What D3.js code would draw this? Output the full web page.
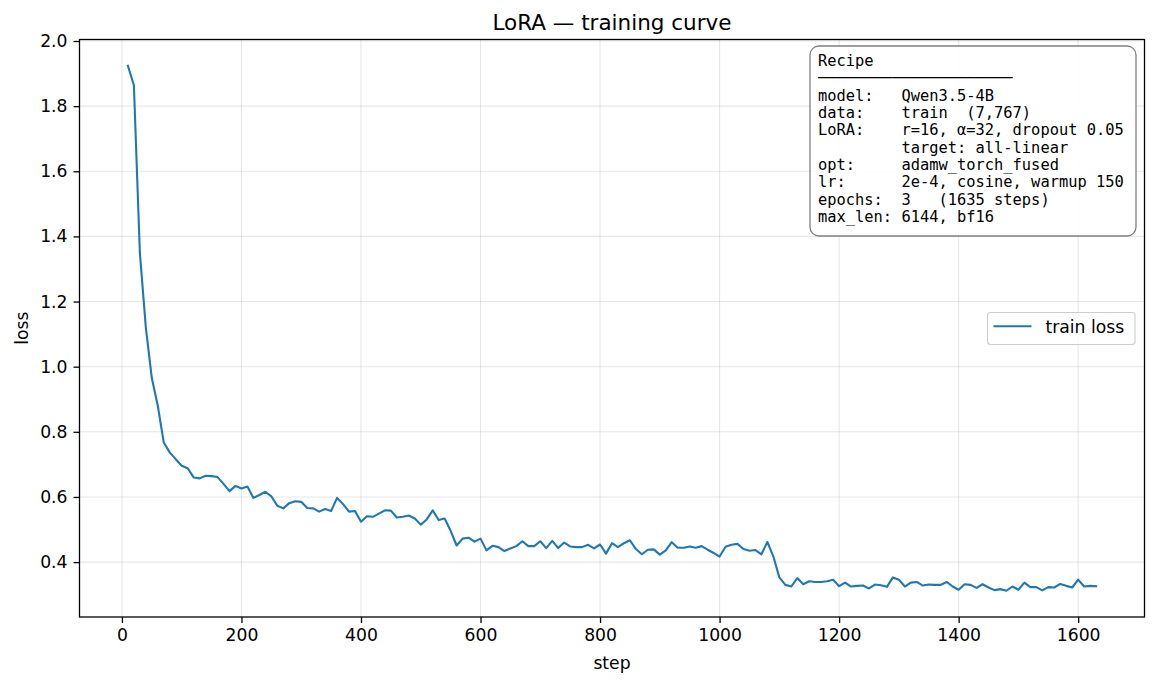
<!DOCTYPE html>
<html>
<head>
<meta charset="utf-8">
<script src="https://cdn.jsdelivr.net/npm/d3@7"></script>
<style>
  html, body { margin: 0; padding: 0; background: #fff; }
  svg { display: block; }
  text { font-family: "DejaVu Sans", sans-serif; fill: #000; }
  .mono { font-family: "DejaVu Sans Mono", monospace; }
</style>
</head>
<body>
<svg id="chart" width="1156" height="686"></svg>
<script>
// ---- data ----
const steps = [10,20,30,40,50,60,70,80,90,100,110,120,130,140,150,160,170,180,190,200,
  210,220,230,240,250,260,270,280,290,300,310,320,330,340,350,360,370,380,390,400,
  410,420,430,440,450,460,470,480,490,500,510,520,530,540,550,560,570,580,590,600,
  610,620,630,640,650,660,670,680,690,700,710,720,730,740,750,760,770,780,790,800,
  810,820,830,840,850,860,870,880,890,900,910,920,930,940,950,960,970,980,990,1000,
  1010,1020,1030,1040,1050,1060,1070,1080,1090,1100,1110,1120,1130,1140,1150,1160,1170,1180,1190,1200,
  1210,1220,1230,1240,1250,1260,1270,1280,1290,1300,1310,1320,1330,1340,1350,1360,1370,1380,1390,1400,
  1410,1420,1430,1440,1450,1460,1470,1480,1490,1500,1510,1520,1530,1540,1550,1560,1570,1580,1590,1600,
  1610,1620,1630];
const trainLoss = [1.924,1.864,1.35,1.12,0.965,0.88,0.767,0.737,0.716,0.696,
  0.688,0.660,0.657,0.665,0.664,0.661,0.640,0.618,0.634,0.626,
  0.632,0.597,0.606,0.616,0.602,0.573,0.565,0.581,0.587,0.585,
  0.566,0.565,0.555,0.563,0.557,0.597,0.578,0.555,0.557,0.524,
  0.541,0.539,0.549,0.559,0.558,0.537,0.539,0.543,0.534,0.515,
  0.531,0.559,0.529,0.534,0.496,0.451,0.472,0.475,0.463,0.472,
  0.436,0.450,0.446,0.434,0.442,0.449,0.464,0.449,0.449,0.464,
  0.443,0.465,0.443,0.460,0.448,0.446,0.446,0.453,0.442,0.454,
  0.426,0.458,0.446,0.458,0.467,0.440,0.424,0.438,0.439,0.423,
  0.436,0.461,0.444,0.444,0.448,0.444,0.449,0.438,0.428,0.417,
  0.447,0.453,0.456,0.440,0.435,0.437,0.424,0.462,0.417,0.353,
  0.330,0.325,0.351,0.332,0.341,0.339,0.339,0.341,0.346,0.326,
  0.337,0.325,0.327,0.328,0.319,0.331,0.329,0.324,0.353,0.346,
  0.325,0.337,0.339,0.328,0.331,0.330,0.330,0.339,0.325,0.315,
  0.332,0.330,0.321,0.332,0.322,0.314,0.317,0.312,0.325,0.315,
  0.337,0.323,0.323,0.313,0.323,0.322,0.333,0.327,0.322,0.346,
  0.325,0.327,0.326];
const xTicks = [0,200,400,600,800,1000,1200,1400,1600];
const yTicks = [0.4,0.6,0.8,1.0,1.2,1.4,1.6,1.8,2.0];
const titleText = "LoRA \u2014 training curve";
const xLabel = "step";
const yLabel = "loss";
const seriesName = "train loss";
const recipeLines = [
  "Recipe",
  "\u2500".repeat(21),
  "model:   Qwen3.5-4B",
  "data:    train  (7,767)",
  "LoRA:    r=16, \u03b1=32, dropout 0.05",
  "         target: all-linear",
  "opt:     adamw_torch_fused",
  "lr:      2e-4, cosine, warmup 150",
  "epochs:  3   (1635 steps)",
  "max_len: 6144, bf16"
];

// ---- layout ----
const L = 79.5, R = 1144.5, T = 39.5, B = 617;
const svg = d3.select("#chart");
const lineColor = "#1f77b4";

const xMin = d3.min(steps), xMax = d3.max(steps);
const xPad = (xMax - xMin) * 0.05;
const yMin = d3.min(trainLoss), yMax = d3.max(trainLoss);
const yPad = (yMax - yMin) * 0.05;

const x = d3.scaleLinear().domain([xMin - xPad, xMax + xPad]).range([L, R]);
const y = d3.scaleLinear().domain([yMin - yPad, yMax + yPad]).range([B, T]);

// grid
const grid = svg.append("g");
grid.selectAll("line.gx").data(xTicks).enter().append("line")
  .attr("x1", d => x(d)).attr("x2", d => x(d)).attr("y1", T).attr("y2", B)
  .attr("stroke", "#b0b0b0").attr("stroke-opacity", 0.3).attr("stroke-width", 1.1);
grid.selectAll("line.gy").data(yTicks).enter().append("line")
  .attr("y1", d => y(d)).attr("y2", d => y(d)).attr("x1", L).attr("x2", R)
  .attr("stroke", "#b0b0b0").attr("stroke-opacity", 0.3).attr("stroke-width", 1.1);

// line
const line = d3.line().x((d, i) => x(steps[i])).y(d => y(d));
svg.append("path").datum(trainLoss)
  .attr("d", line).attr("fill", "none")
  .attr("stroke", lineColor).attr("stroke-width", 2.1)
  .attr("stroke-linejoin", "round").attr("stroke-linecap", "square");

// axes
const fs = 17.2;
const xAxis = d3.axisBottom(x).tickValues(xTicks).tickFormat(d3.format("d")).tickSize(6).tickPadding(6);
const yAxis = d3.axisLeft(y).tickValues(yTicks).tickFormat(d3.format(".1f")).tickSize(6).tickPadding(6);
const gx = svg.append("g").attr("transform", `translate(0,${B})`).call(xAxis);
const gy = svg.append("g").attr("transform", `translate(${L},0)`).call(yAxis);
[gx, gy].forEach(g => {
  g.select(".domain").remove();
  g.selectAll(".tick line").attr("stroke", "#000").attr("stroke-width", 1.3);
  g.selectAll(".tick text").attr("font-family", "DejaVu Sans").attr("font-size", fs).attr("fill", "#000");
});

// frame
svg.append("rect").attr("x", L).attr("y", T).attr("width", R - L).attr("height", B - T)
  .attr("fill", "none").attr("stroke", "#000").attr("stroke-width", 1.3);

// labels
svg.append("text").attr("x", (L + R) / 2).attr("y", 29.5).attr("text-anchor", "middle")
  .attr("font-size", 21.5).text(titleText);
svg.append("text").attr("x", (L + R) / 2).attr("y", 669).attr("text-anchor", "middle")
  .attr("font-size", fs).text(xLabel);
svg.append("text").attr("transform", `translate(28,${(T + B) / 2}) rotate(-90)`)
  .attr("text-anchor", "middle").attr("font-size", fs).text(yLabel);

// recipe box
const bx = 810, by = 46, bw = 326, bh = 190;
svg.append("rect").attr("x", bx).attr("y", by).attr("width", bw).attr("height", bh)
  .attr("rx", 9).attr("ry", 9)
  .attr("fill", "#fff").attr("fill-opacity", 0.9)
  .attr("stroke", "#808080").attr("stroke-width", 1.3);
const rt = svg.append("text").attr("class", "mono").attr("font-size", 15.4)
  .attr("xml:space", "preserve").style("white-space", "pre");
recipeLines.forEach((s, i) => {
  rt.append("tspan").attr("x", 818).attr("y", 66 + i * 17.35).text(s);
});

// legend
const lx = 987.5, ly = 312.5, lw = 147.5, lh = 32;
svg.append("rect").attr("x", lx).attr("y", ly).attr("width", lw).attr("height", lh)
  .attr("rx", 3).attr("ry", 3).attr("fill", "#fff").attr("fill-opacity", 0.8)
  .attr("stroke", "#cccccc").attr("stroke-width", 1.1);
svg.append("line").attr("x1", lx + 6).attr("x2", lx + 44).attr("y1", ly + 13.8).attr("y2", ly + 13.8)
  .attr("stroke", lineColor).attr("stroke-width", 2.1);
svg.append("text").attr("x", lx + 58).attr("y", ly + 20.5).attr("font-size", fs).text(seriesName);
</script>
</body>
</html>
